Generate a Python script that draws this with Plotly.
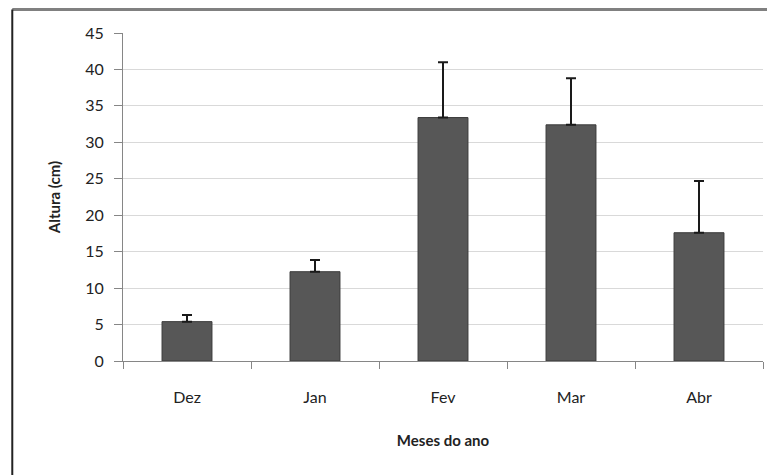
import plotly.graph_objects as go

# monthly heights (cm) with upper error
meses = ["Dez", "Jan", "Fev", "Mar", "Abr"]
altura = [5.4, 12.25, 33.4, 32.4, 17.6]
erro = [0.9, 1.6, 7.6, 6.4, 7.1]

fig = go.Figure()

fig.add_trace(go.Bar(
    x=meses,
    y=altura,
    width=0.39,
    marker=dict(color="#575757", line=dict(color="#3a3a3a", width=1)),
    error_y=dict(type="data", array=erro, symmetric=False, arrayminus=[0] * len(erro),
                 color="#1a1a1a", thickness=2, width=5, visible=True),
))

# page body has an 8px margin, so the figure is sized to fit the window
font_name = "Lato"
fig.update_layout(
    width=767,
    height=467,
    margin=dict(l=115, r=12, t=25, b=114),
    paper_bgcolor="white",
    plot_bgcolor="white",
    showlegend=False,
    font=dict(family=font_name, size=16, color="#222222"),
)

fig.update_yaxes(
    range=[0, 45],
    dtick=5,
    automargin=False,
    showgrid=True,
    gridcolor="#d9d9d9",
    gridwidth=1,
    showline=True,
    linecolor="#868686",
    linewidth=1,
    ticks="outside",
    ticklen=8,
    tickcolor="#868686",
    ticklabelstandoff=7,
    zeroline=False,
    title=dict(text="<b>Altura (cm)</b>", font=dict(size=15), standoff=20),
)
fig.update_xaxes(
    automargin=False,
    showline=True,
    linecolor="#868686",
    linewidth=1,
    ticks="outside",
    tickson="boundaries",
    ticklen=7,
    tickcolor="#868686",
    ticklabelstandoff=22,
    showgrid=False,
    title=dict(text="<b>Meses do ano</b>", font=dict(size=15), standoff=30),
)

# outer frame (top and left edges visible in the crop)
fig.add_shape(type="line", xref="paper", yref="paper",
              x0=-0.173, x1=1.1, y0=1.0716, y1=1.0716,
              line=dict(color="#808080", width=3))
fig.add_shape(type="line", xref="paper", yref="paper",
              x0=-0.173, x1=-0.173, y0=1.0716, y1=-0.4,
              line=dict(color="#222222", width=2))

fig.write_html("out.html")
